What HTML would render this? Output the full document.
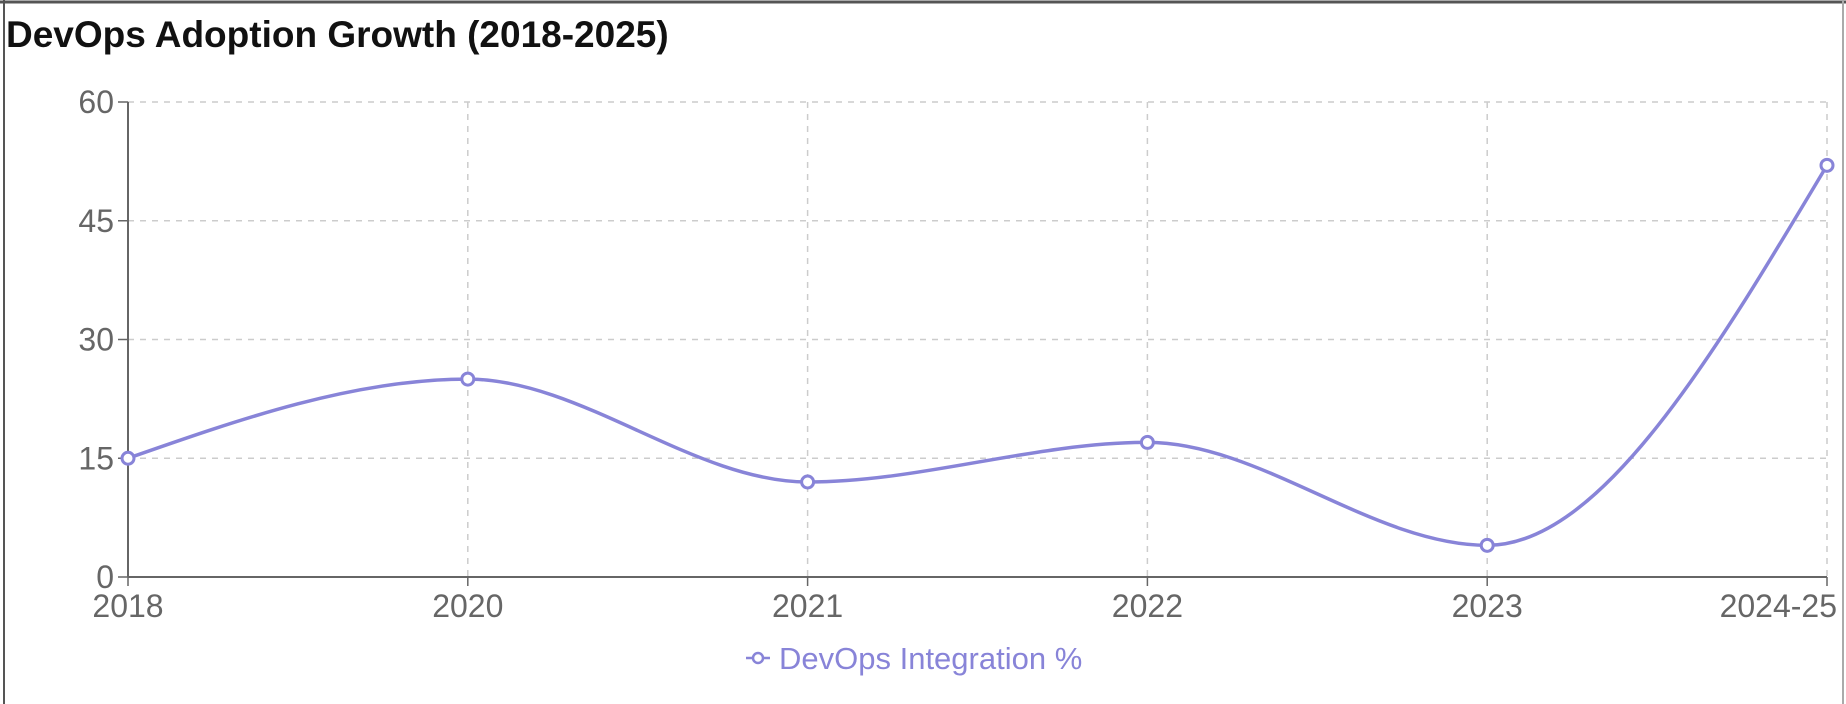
<!DOCTYPE html>
<html><head><meta charset="utf-8"><style>
html,body{margin:0;padding:0;background:#fff;width:1846px;height:704px;overflow:hidden}
svg{display:block;font-family:"Liberation Sans",sans-serif}
</style></head><body>
<svg id="chart" width="1846" height="704">
<line x1="0" y1="2" x2="1846" y2="2" stroke="#555" stroke-width="3"/>
<line x1="4" y1="0" x2="4" y2="704" stroke="#555" stroke-width="2"/>
<line x1="1843" y1="0" x2="1843" y2="704" stroke="#aaa" stroke-width="2"/>
<text x="6" y="47" font-size="37" font-weight="bold" fill="#111">DevOps Adoption Growth (2018-2025)</text>
<g id="grid"></g>
<g id="axes"></g>
<g id="series"></g>
<g>
<line x1="746" y1="658" x2="770" y2="658" stroke="#8884d8" stroke-width="2.5"/>
<circle cx="758" cy="658" r="5" fill="#fff" stroke="#8884d8" stroke-width="2.5"/>
<text x="779" y="669" font-size="31" fill="#8884d8">DevOps Integration %</text>
</g>
</svg>
<script>
const categories = ["2018","2020","2021","2022","2023","2024-25"];
const values = [15, 25, 12, 17, 4, 52];
const yTicks = [0, 15, 30, 45, 60];
const NS = "http://www.w3.org/2000/svg";
const X0 = 128, X1 = 1827, Y0 = 577, Y1 = 102;
const xScale = i => X0 + (X1 - X0) * i / (categories.length - 1);
const yScale = v => Y0 - (Y0 - Y1) * v / 60;
function mk(tag, attrs, parent){const e=document.createElementNS(NS,tag);for(const k in attrs)e.setAttribute(k,attrs[k]);parent.appendChild(e);return e;}
const grid=document.getElementById('grid'), axes=document.getElementById('axes'), series=document.getElementById('series');
yTicks.forEach(t=>{
  if(t>0){const l=mk('line',{x1:X0,x2:X1,y1:yScale(t),y2:yScale(t),stroke:'#ccc','stroke-dasharray':'6 6','stroke-width':1.5},grid);
  
  }
  const tk=mk('line',{x1:X0-10,x2:X0,y1:yScale(t),y2:yScale(t),stroke:'#666','stroke-width':1.5},axes);
  
  
  const tx=mk('text',{x:X0-14,y:yScale(t)+11,'text-anchor':'end','font-size':32,fill:'#666'},axes);
  tx.textContent=t;
  
  
});
categories.forEach((c,i)=>{
  const x=xScale(i);
  if(i>0){const l=mk('line',{x1:x,x2:x,y1:Y1,y2:Y0,stroke:'#ccc','stroke-dasharray':'6 6','stroke-width':1.5},grid);
  
  }
  const tk=mk('line',{x1:x,x2:x,y1:Y0,y2:Y0+9,stroke:'#666','stroke-width':1.5},axes);
  
  
  const last = i===categories.length-1;
  const tx=mk('text',{x: last ? 1837 : x,y:Y0+40,'text-anchor':last?'end':'middle','font-size':32,fill:'#666'},axes);
  tx.textContent=c;
  
  
});
const ya=mk('line',{x1:X0,x2:X0,y1:Y1,y2:Y0,stroke:'#666','stroke-width':2},axes);


const xa=mk('line',{x1:X0,x2:X1,y1:Y0,y2:Y0,stroke:'#666','stroke-width':2},axes);


const px=values.map((v,i)=>xScale(i)), py=values.map(v=>yScale(v));
const n=px.length, s=[], m=[];
for(let i=0;i<n-1;i++) s.push((py[i+1]-py[i])/(px[i+1]-px[i]));
for(let i=1;i<n-1;i++){
  const h0=px[i]-px[i-1], h1=px[i+1]-px[i], s0=s[i-1], s1=s[i];
  const p=(s0*h1+s1*h0)/(h0+h1);
  m[i]=(Math.sign(s0)+Math.sign(s1))*Math.min(Math.abs(s0),Math.abs(s1),0.5*Math.abs(p))||0;
}
m[0]=(3*s[0]-m[1])/2; m[n-1]=(3*s[n-2]-m[n-2])/2;
let d=`M${px[0]},${py[0]}`;
for(let i=0;i<n-1;i++){const dx=(px[i+1]-px[i])/3;
  d+=` C${px[i]+dx},${py[i]+dx*m[i]} ${px[i+1]-dx},${py[i+1]-dx*m[i+1]} ${px[i+1]},${py[i+1]}`;}
const path=mk('path',{d:d,fill:'none',stroke:'#8884d8','stroke-width':3.5},series);


values.forEach((v,i)=>{
  const c=mk('circle',{cx:px[i],cy:py[i],r:6,fill:'#fff',stroke:'#8884d8','stroke-width':3},series);
  
  
});
</script>
</body></html>
